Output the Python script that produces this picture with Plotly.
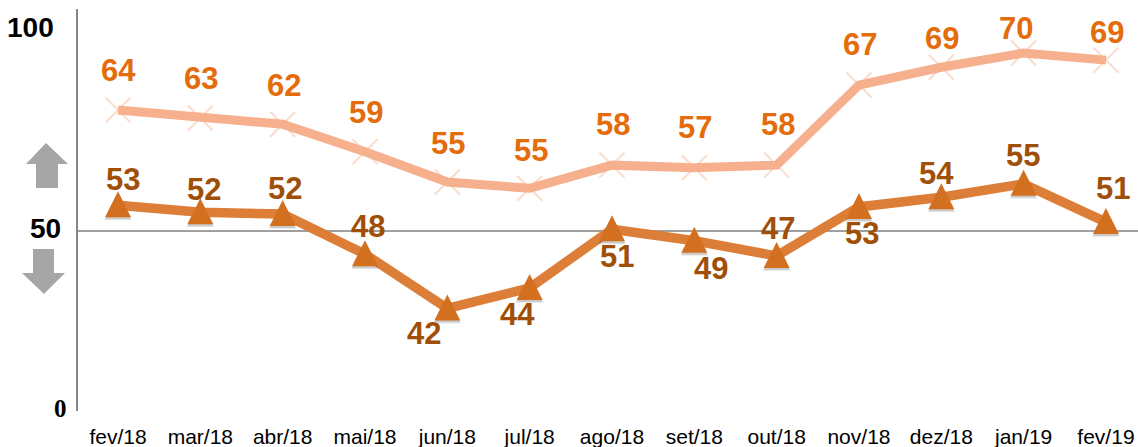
import plotly.graph_objects as go

months = ["fev/18","mar/18","abr/18","mai/18","jun/18","jul/18","ago/18","set/18","out/18","nov/18","dez/18","jan/19","fev/19"]
upper_values = [63.6,62.7,62.0,58.9,55.5,54.8,57.4,57.1,57.4,66.4,68.4,70.0,69.2]
lower_values = [52.9,52.1,51.9,47.4,41.3,43.6,50.2,48.9,47.2,52.7,53.8,55.3,51.0]
upper_labels = [64,63,62,59,55,55,58,57,58,67,69,70,69]
lower_labels = [53,52,52,48,42,44,51,49,47,53,54,55,51]

# label offsets from each point, in pixels (up is positive)
upper_dx = [0,1,1,1,1,1,1,1,1,1,1,-8,1]
upper_dy = [39,39,39,39,39,38,41,40,41,41,29,25,28]
lower_dx = [5,4,2,3,-23,-12,5,17,1,3,-5,-1,7]
lower_dy = [26,23,26,28,-25,-27,-27,-28,27,-27,24,28,34]

W, H = 1138, 447
L, R, T, B = 78, 0, 9, 36
UNIT = 8.9           # px per unit
STEP = 82.33         # px per category
X0 = 118             # px of first category
Y50 = 231
y_lo = 50 - (H - B - Y50) / UNIT
y_hi = 50 + (Y50 - T) / UNIT
x_rng = [(L - X0) / STEP, (W - X0) / STEP]

def px(x, y):
    return f"{(x - L) / (W - L - R):.5f},{1 - (y - T) / (H - T - B):.5f}"

def poly(points):
    return "M" + " L".join(px(*p) for p in points) + " Z"

up_arrow = [(46,143),(68,164),(58,164),(58,188),(36,188),(36,164),(26,164)]
down_arrow = [(33,249),(54,249),(54,273),(65,273),(44,294),(22,273),(33,273)]

fig = go.Figure()
fig.add_trace(go.Scatter(x=months, y=upper_values, mode="markers",
    marker=dict(symbol="x-thin", size=25, color="#FADCCC", line=dict(width=2, color="#FADCCC")),
    hoverinfo="skip"))
fig.add_trace(go.Scatter(x=months, y=upper_values, mode="lines",
    line=dict(color="#F6B08E", width=9), hoverinfo="skip"))
fig.add_trace(go.Scatter(x=months, y=lower_values, mode="lines+markers",
    line=dict(color="#DC7E38", width=9.5),
    marker=dict(symbol="triangle-up", size=12, color="#D2701F", line=dict(width=0)),
    hoverinfo="skip"))

ann = []
for i, m in enumerate(months):
    ann.append(dict(x=m, y=upper_values[i], text=f"<b>{upper_labels[i]}</b>", showarrow=False,
                    xshift=upper_dx[i], yshift=upper_dy[i],
                    font=dict(family="Liberation Sans", size=31, color="#E46C0A")))
    ann.append(dict(x=m, y=lower_values[i], text=f"<b>{lower_labels[i]}</b>", showarrow=False,
                    xshift=lower_dx[i], yshift=lower_dy[i],
                    font=dict(family="Liberation Sans", size=31, color="#A04F08")))

for txt, xr, yc, fam, sz in [("100", 56, 28, "Liberation Sans", 28), ("50", 63, 228, "Liberation Sans", 28), ("0", 69, 408, "Liberation Serif", 25)]:
    ann.append(dict(xref="paper", yref="paper", x=(xr - L) / (W - L - R), y=1 - (yc - T) / (H - T - B),
                    xanchor="right", yanchor="middle", showarrow=False, text=f"<b>{txt}</b>",
                    font=dict(family=fam, size=sz, color="#000000")))

shapes = [
    dict(type="line", xref="paper", yref="y", x0=0, x1=1, y0=50, y1=50, line=dict(color="#808080", width=1.5), layer="below"),
    dict(type="path", xref="paper", yref="paper", path=poly(up_arrow), fillcolor="#A6A6A6", line=dict(width=0)),
    dict(type="path", xref="paper", yref="paper", path=poly(down_arrow), fillcolor="#A6A6A6", line=dict(width=0)),
]

# triangle markers anchored on each lower-series point, with a soft drop shadow
def tri(m, v, half, top, bottom, fill):
    return dict(type="path", xref="x", yref="y", xsizemode="pixel", ysizemode="pixel",
                xanchor=months.index(m), yanchor=v,
                path=f"M0,{top} L{half},{bottom} L{-half},{bottom} Z",
                fillcolor=fill, line=dict(width=0), layer="above")

for m, v in zip(months, lower_values):
    shapes.append(tri(m, v, 14, 11, -15, "rgba(90,90,90,0.12)"))
    shapes.append(tri(m, v, 13, 11, -14, "rgba(90,90,90,0.22)"))
    shapes.append(tri(m, v, 13, 14, -12, "#D2701F"))

fig.update_layout(
    width=W, height=H, margin=dict(l=L, r=R, t=T, b=B, pad=0),
    paper_bgcolor="#FFFFFF", plot_bgcolor="#FFFFFF", showlegend=False,
    annotations=ann, shapes=shapes,
    xaxis=dict(type="category", categoryorder="array", categoryarray=months, range=x_rng,
               showgrid=False, zeroline=False, showline=False, ticks="", ticklabelstandoff=11,
               tickfont=dict(family="Liberation Sans", size=21, color="#000000"), tickangle=0),
    yaxis=dict(range=[y_lo, y_hi], showgrid=False, zeroline=False, showticklabels=False,
               ticks="", showline=True, linecolor="#868686", linewidth=2),
)
fig.write_html("out.html", config={"displayModeBar": False},
               post_script="document.body.style.margin='0';")
